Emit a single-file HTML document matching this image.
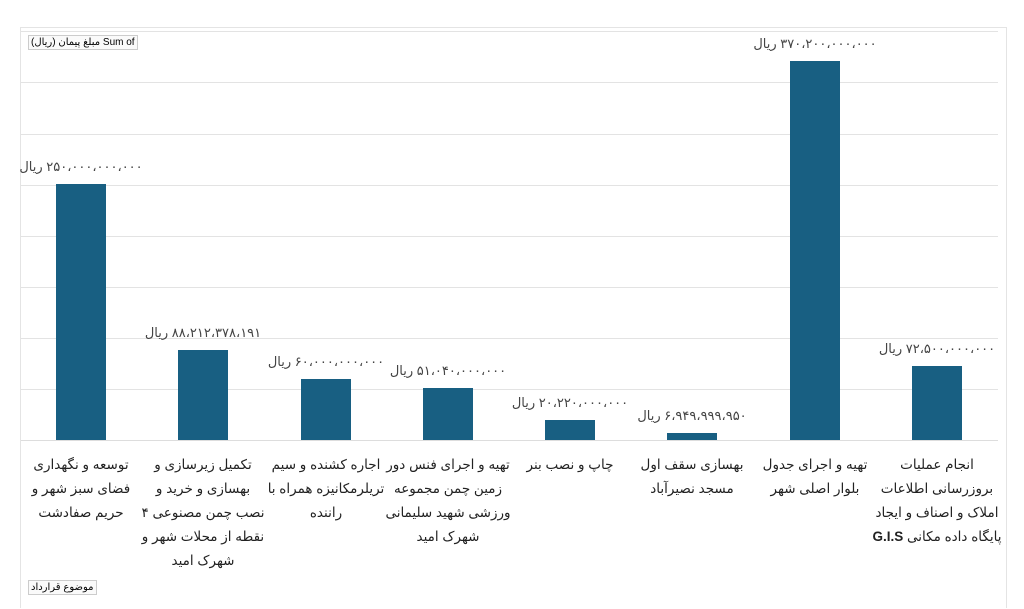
<!DOCTYPE html>
<html><head><meta charset="utf-8"><style>
body{margin:0;width:1024px;height:609px;background:#fff;position:relative;overflow:hidden;font-family:"Liberation Sans","DejaVu Sans",sans-serif}
.frame{position:absolute;left:20px;top:27px;width:985px;height:580px;border-left:1px solid #e4e4e4;border-top:1px solid #e4e4e4;border-right:1px solid #e4e4e4}
.g{position:absolute;left:21px;width:977px;height:1px;background:#e3e3e3}
.bar{position:absolute;width:50px;background:#185f82}
.v{position:absolute;width:160px;text-align:center;font-size:13px;color:#444;direction:rtl;white-space:nowrap}
.c{position:absolute;width:140px;text-align:center;font-size:13.5px;color:#222;direction:rtl;line-height:24px;top:453px;white-space:nowrap}
.box{position:absolute;font-size:10px;border:1px solid #ccc;background:#fafafa;padding:1px 2px;color:#000}
</style></head><body>
<div class="frame"></div>
<div class="g" style="top:31px"></div><div class="g" style="top:82px"></div><div class="g" style="top:134px"></div>
<div class="g" style="top:185px"></div><div class="g" style="top:236px"></div><div class="g" style="top:287px"></div>
<div class="g" style="top:338px"></div><div class="g" style="top:389px"></div><div class="g" style="top:440px;background:#ddd"></div>
<div class="box" style="left:28px;top:35px">مبلغ پیمان (ریال) Sum of</div>
<div class="box" style="left:28px;top:580px">موضوع قرارداد</div>

<div class="bar" style="left:56px;top:184px;height:256px"></div>
<div class="bar" style="left:178px;top:350px;height:90px"></div>
<div class="bar" style="left:301px;top:379px;height:61px"></div>
<div class="bar" style="left:423px;top:388px;height:52px"></div>
<div class="bar" style="left:545px;top:420px;height:20px"></div>
<div class="bar" style="left:667px;top:433px;height:7px"></div>
<div class="bar" style="left:790px;top:61px;height:379px"></div>
<div class="bar" style="left:912px;top:366px;height:74px"></div>

<div class="v" style="left:1px;top:159px">۲۵۰،۰۰۰،۰۰۰،۰۰۰ ریال</div>
<div class="v" style="left:123px;top:325px">۸۸،۲۱۲،۳۷۸،۱۹۱ ریال</div>
<div class="v" style="left:246px;top:354px">۶۰،۰۰۰،۰۰۰،۰۰۰ ریال</div>
<div class="v" style="left:368px;top:363px">۵۱،۰۴۰،۰۰۰،۰۰۰ ریال</div>
<div class="v" style="left:490px;top:395px">۲۰،۲۲۰،۰۰۰،۰۰۰ ریال</div>
<div class="v" style="left:612px;top:408px">۶،۹۴۹،۹۹۹،۹۵۰ ریال</div>
<div class="v" style="left:735px;top:36px">۳۷۰،۲۰۰،۰۰۰،۰۰۰ ریال</div>
<div class="v" style="left:857px;top:341px">۷۲،۵۰۰،۰۰۰،۰۰۰ ریال</div>

<div class="c" style="left:11px">توسعه و نگهداری<br>فضای سبز شهر و<br>حریم صفادشت</div>
<div class="c" style="left:133px">تکمیل زیرسازی و<br>بهسازی و خرید و<br>نصب چمن مصنوعی ۴<br>نقطه از محلات شهر و<br>شهرک امید</div>
<div class="c" style="left:256px">اجاره کشنده و سیم<br>تریلرمکانیزه همراه با<br>راننده</div>
<div class="c" style="left:378px">تهیه و اجرای فنس دور<br>زمین چمن مجموعه<br>ورزشی شهید سلیمانی<br>شهرک امید</div>
<div class="c" style="left:500px">چاپ و نصب بنر</div>
<div class="c" style="left:622px">بهسازی سقف اول<br>مسجد نصیرآباد</div>
<div class="c" style="left:745px">تهیه و اجرای جدول<br>بلوار اصلی شهر</div>
<div class="c" style="left:867px">انجام عملیات<br>بروزرسانی اطلاعات<br>املاک و اصناف و ایجاد<br>پایگاه داده مکانی <b>G.I.S</b></div>
</body></html>
